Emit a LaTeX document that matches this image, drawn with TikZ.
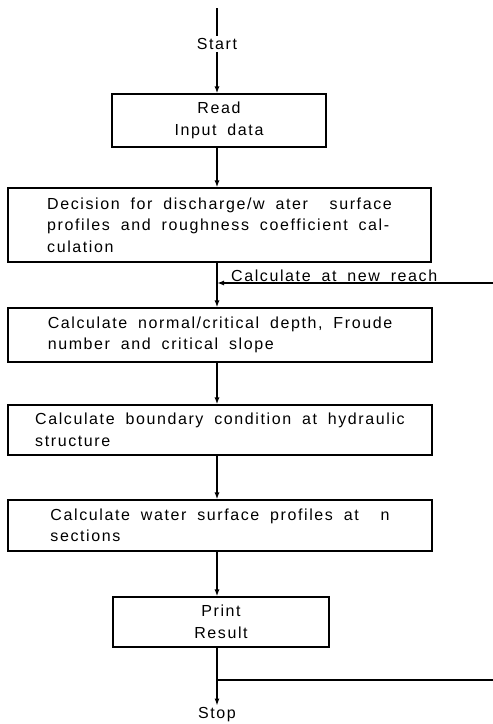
\documentclass[tikz,border=0pt]{standalone}
\usepackage{fontspec}
\setmainfont{Liberation Sans}[LetterSpace=10,WordSpace=1.8]
\usetikzlibrary{arrows.meta}
\begin{document}
\begin{tikzpicture}[x=1pt,y=-1pt,
  every node/.style={font=\fontsize{16pt}{21.5pt}\selectfont},
  box/.style={draw, line width=1.1pt, align=left, inner sep=0pt, minimum width=#1},
  box/.default=424pt,
  conn/.style={line width=1.4pt},
  arr/.style={conn, -{Latex[length=7pt,width=5pt]}},
  lbl/.style={inner sep=2pt}]
\useasboundingbox (0,0) rectangle (493,724);
\coordinate (top) at (217,8);
\node[lbl] (start) at (217,44) {Start};
\node[box=214pt, minimum height=53pt, align=center] (read) at (219,120.5) {Read\\Input data};
\node[box=423pt, minimum height=74pt] (dec) at (219.5,225) {Decision for discharge/w ater\ \ surface\\profiles and roughness coefficient cal-\\culation};
\node[box, minimum height=54pt] (norm) at (220,335) {Calculate normal/critical depth, Froude\\number and critical slope};
\node[box, minimum height=50pt] (bound) at (220,430) {Calculate boundary condition at hydraulic\\structure};
\node[box, minimum height=51pt] (prof) at (220,525.5) {Calculate water surface profiles at\ \ n\\sections};
\node[box=216pt, minimum height=50pt, align=center] (print) at (221,622) {Print\\Result};
\node[lbl] (stop) at (217,715) {Stop};
\coordinate (j1) at (217,283);
\coordinate (r1) at (493,283);
\coordinate (j2) at (217,680);
\coordinate (r2) at (493,680);
\node[lbl, anchor=south west] (reach) at (229,284) {Calculate at new reach};

\draw[conn] (top) -- (start.north);
\draw[arr] (start.south) -- (start.south |- read.north);
\draw[arr] (read.south -| start) -- (start |- dec.north);
\draw[arr] (dec.south -| start) -- (start |- norm.north);
\draw[arr] (r1) -- (j1);
\draw[arr] (norm.south -| start) -- (start |- bound.north);
\draw[arr] (bound.south -| start) -- (start |- prof.north);
\draw[arr] (prof.south -| start) -- (start |- print.north);
\draw[arr] (print.south -| start) -- (stop.north);
\draw[conn] (j2) -- (r2);
\end{tikzpicture}
\end{document}
